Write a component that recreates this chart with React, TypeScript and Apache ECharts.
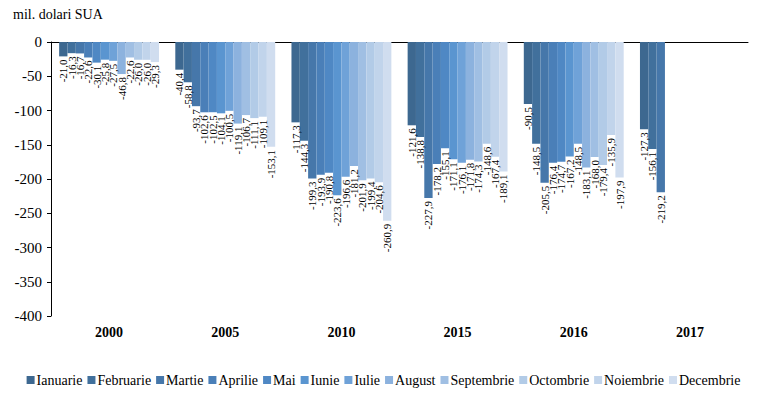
import React, { useEffect, useRef } from "react";
import * as echarts from "echarts";

const years = ["2000", "2005", "2010", "2015", "2016", "2017"];
const months = ["Ianuarie", "Februarie", "Martie", "Aprilie", "Mai", "Iunie", "Iulie", "August", "Septembrie", "Octombrie", "Noiembrie", "Decembrie"];
const colors = ["#3d6890", "#41709c", "#4677aa", "#4a7fb8", "#4f88c4", "#5a95d0", "#6fa2d8", "#8cb2de", "#a0bfe3", "#b2cbe7", "#c1d4eb", "#d0ddef"];

// values per month, index = year
const ianuarie = [-21.0, -40.4, -117.3, -121.6, -90.5, -127.3];
const februarie = [-16.3, -58.8, -144.3, -138.8, -148.5, -156.1];
const martie = [-16.7, -93.7, -199.3, -227.9, -205.5, -219.2];
const aprilie = [-22.6, -102.6, -193.9, -178.2, -176.4, null];
const mai = [-30.1, -102.5, -190.8, -155.1, -174.7, null];
const iunie = [-25.8, -104.1, -223.6, -171.1, -167.2, null];
const iulie = [-27.5, -100.5, -196.6, -176.1, -148.5, null];
const august = [-46.8, -119.1, -181.2, -171.8, -183.1, null];
const septembrie = [-22.6, -106.7, -201.9, -174.3, -168.0, null];
const octombrie = [-26.0, -111.1, -199.4, -148.6, -179.4, null];
const noiembrie = [-26.0, -109.1, -204.6, -167.4, -135.9, null];
const decembrie = [-29.3, -153.1, -260.9, -189.1, -197.9, null];

const seriesData = [ianuarie, februarie, martie, aprilie, mai, iunie, iulie, august, septembrie, octombrie, noiembrie, decembrie];

const yTicks = { min: -400, max: 0, interval: 50 };
const font = "Liberation Serif";

export default function App() {
  const ref = useRef<HTMLDivElement>(null);
  useEffect(() => {
    if (!ref.current) return;
    const chart = echarts.init(ref.current, null, { renderer: "svg" });
    chart.setOption({
      animation: false,
      textStyle: { fontFamily: font },
      title: {
        text: "mil. dolari SUA",
        left: 5,
        top: -1,
        padding: [0, 0],
        textStyle: { fontFamily: font, fontSize: 14, fontWeight: "normal", color: "#000" },
      },
      legend: {
        top: 360,
        left: "center",
        itemWidth: 8,
        itemHeight: 8,
        itemGap: 5,
        icon: "rect",
        textStyle: { fontFamily: font, fontSize: 14, color: "#000", padding: [0, 0, 0, -3] },
        data: months,
      },
      grid: { left: 43, right: 11, top: 34, bottom: 78 },
      xAxis: [
        {
          type: "category",
          data: years,
          position: "bottom",
          axisLine: { show: false },
          axisTick: { show: false },
          axisLabel: { fontFamily: font, fontSize: 14, fontWeight: "bold", color: "#000", margin: 9 },
        },
        {
          type: "category",
          data: years,
          position: "top",
          axisLine: { show: true, lineStyle: { color: "#000", width: 1 } },
          axisTick: { show: false },
          axisLabel: { show: false },
        },
      ],
      yAxis: {
        type: "value",
        min: yTicks.min,
        max: yTicks.max,
        interval: yTicks.interval,
        axisLine: { show: true, lineStyle: { color: "#000" } },
        axisTick: { show: true, length: 4, lineStyle: { color: "#000" } },
        splitLine: { show: false },
        axisLabel: { fontFamily: font, fontSize: 15, color: "#000", margin: 9 },
      },
      series: months.map((m, i) => ({
        name: m,
        type: "bar",
        xAxisIndex: 0,
        data: seriesData[i],
        barGap: "0%",
        barCategoryGap: "14%",
        itemStyle: { color: colors[i] },
        label: {
          show: true,
          position: "bottom",
          rotate: 90,
          align: "right",
          verticalAlign: "middle",
          distance: 3,
          fontFamily: font,
          fontSize: 11,
          color: "#000",
          formatter: (p: any) => (p.value == null ? "" : Number(p.value).toFixed(1).replace(".", ",")),
        },
      })),
    });
    return () => chart.dispose();
  }, []);
  return <div ref={ref} style={{ width: 751, height: 386 }} />;
}
